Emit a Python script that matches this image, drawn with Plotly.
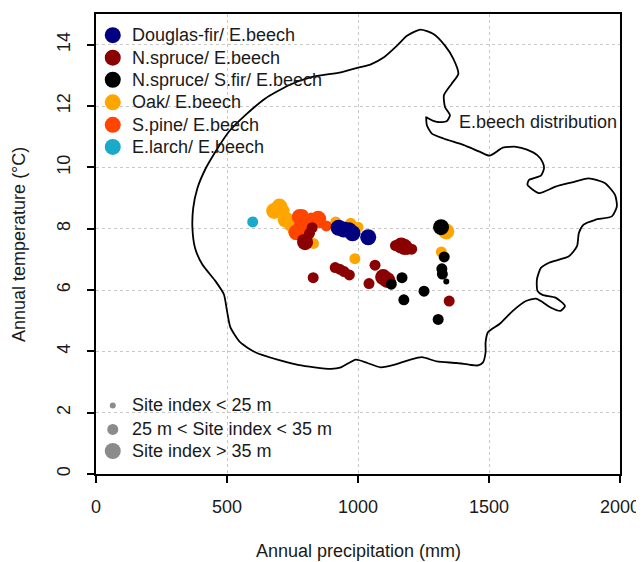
import plotly.graph_objects as go

# ---------------- data ----------------
# E.beech climatic distribution outline (precip mm, temperature degC)
boundary_precip = [1260, 1263, 1282, 1326, 1402, 1464, 1502, 1553, 1603, 1645, 1684, 1704, 1710, 1698,
                   1653, 1647, 1691, 1754, 1817, 1880, 1943, 1981, 1988, 1969, 1906, 1861, 1843, 1836,
                   1805, 1729, 1698, 1683, 1685, 1704, 1754, 1790, 1773, 1735, 1698, 1679, 1641, 1591,
                   1540, 1496, 1487, 1487, 1477, 1458, 1427, 1376, 1301, 1244, 1200, 1149, 1086, 1036,
                   992, 935, 897, 834, 771, 696, 608, 551, 513, 500, 488, 456, 406, 378, 368, 371, 387,
                   419, 456, 507, 570, 645, 734, 822, 935, 1000, 1049, 1099, 1149, 1187, 1238, 1288,
                   1332, 1364, 1383, 1357, 1328, 1332, 1351, 1338, 1301, 1269, 1262]
boundary_temp = [11.66, 11.37, 11.10, 10.94, 10.73, 10.51, 10.38, 10.64, 10.67, 10.58, 10.40, 10.18, 9.97, 9.73,
                 9.59, 9.43, 9.16, 9.37, 9.51, 9.64, 9.48, 9.10, 8.73, 8.40, 8.29, 8.13, 7.86, 7.43,
                 7.10, 6.89, 6.72, 6.35, 5.97, 5.84, 5.75, 5.48, 5.32, 5.43, 5.64, 5.72, 5.64, 5.32,
                 4.89, 4.62, 4.29, 3.97, 3.64, 3.54, 3.56, 3.62, 3.67, 3.81, 3.73, 3.59, 3.48, 3.62,
                 3.73, 3.48, 3.43, 3.48, 3.56, 3.72, 3.97, 4.29, 4.78, 5.32, 5.86, 6.29, 6.83, 7.37, 8.02, 8.67, 9.32,
                 9.97, 10.51, 11.16, 11.70, 12.24, 12.67, 12.94, 13.10, 13.25, 13.36, 13.59, 13.97, 14.29, 14.49, 14.35,
                 13.97, 13.54, 13.05, 12.72, 12.35, 11.97, 11.70, 11.50, 11.48, 11.59, 11.64]

# site index classes: 1 = < 25 m, 2 = 25-35 m, 3 = > 35 m
oak_precip = [680, 700, 718, 724, 739, 752, 830, 915, 972, 1000, 988, 1318, 1337]
oak_temp   = [8.58, 8.72, 8.60, 8.30, 8.10, 7.97, 7.52, 8.22, 8.18, 8.05, 7.02, 7.24, 7.91]
oak_si     = [3, 3, 2, 3, 2, 2, 2, 2, 2, 2, 2, 2, 3]

pine_precip = [778, 790, 787, 765, 784, 822, 848, 855, 879, 808]
pine_temp   = [8.38, 8.45, 8.15, 7.88, 7.93, 8.35, 8.32, 8.20, 8.09, 8.00]
pine_si     = [3, 2, 3, 3, 2, 2, 3, 2, 2, 2]

spruce_precip = [798, 790, 825, 815, 829, 913, 930, 947, 967, 1065, 1042, 1096, 1111, 1125,
                 1143, 1165, 1178, 1190, 1205, 1348]
spruce_temp   = [7.56, 7.64, 8.03, 7.85, 6.40, 6.73, 6.68, 6.60, 6.49, 6.81, 6.21, 6.42, 6.33, 6.25,
                 7.45, 7.45, 7.40, 7.33, 7.33, 5.64]
spruce_si     = [3, 2, 2, 2, 2, 2, 2, 2, 2, 2, 2, 3, 3, 2, 2, 3, 3, 2, 2, 2]

fir_precip = [1317, 1329, 1320, 1322, 1337, 1168, 1127, 1175, 1252, 1306]
fir_temp   = [8.05, 7.08, 6.69, 6.52, 6.28, 6.40, 6.19, 5.68, 5.96, 5.04]
fir_si     = [3, 2, 2, 2, 1, 2, 2, 2, 2, 2]

douglas_precip = [926, 945, 965, 979, 1039]
douglas_temp   = [8.03, 7.97, 7.95, 7.85, 7.72]
douglas_si     = [3, 3, 3, 3, 3]

larch_precip = [598]
larch_temp   = [8.22]
larch_si     = [2]

group_labels = ["Douglas-fir/ E.beech", "N.spruce/ E.beech", "N.spruce/ S.fir/ E.beech",
                "Oak/ E.beech", "S.pine/ E.beech", "E.larch/ E.beech"]
size_labels = ["Site index < 25 m", "25 m < Site index < 35 m", "Site index > 35 m"]
x_ticks = [0, 500, 1000, 1500, 2000]
y_ticks = [0, 2, 4, 6, 8, 10, 12, 14]

# ---------------- styling ----------------
FONT = "Liberation Sans, Arial, sans-serif"
colors = {"Douglas-fir/ E.beech": "#000080", "N.spruce/ E.beech": "#8B0000",
          "N.spruce/ S.fir/ E.beech": "#000000", "Oak/ E.beech": "#FFA500",
          "S.pine/ E.beech": "#FF4500", "E.larch/ E.beech": "#19A9C9"}
size_px = {1: 6, 2: 11, 3: 16}

fig = go.Figure()

fig.add_trace(go.Scatter(x=boundary_precip, y=boundary_temp, mode="lines",
                         line=dict(color="black", width=1.8, shape="spline", smoothing=0.6),
                         showlegend=False, hoverinfo="skip"))

groups = [("Oak/ E.beech", oak_precip, oak_temp, oak_si),
          ("S.pine/ E.beech", pine_precip, pine_temp, pine_si),
          ("N.spruce/ E.beech", spruce_precip, spruce_temp, spruce_si),
          ("N.spruce/ S.fir/ E.beech", fir_precip, fir_temp, fir_si),
          ("Douglas-fir/ E.beech", douglas_precip, douglas_temp, douglas_si),
          ("E.larch/ E.beech", larch_precip, larch_temp, larch_si)]
for name, xs, ys, si in groups:
    fig.add_trace(go.Scatter(x=xs, y=ys, mode="markers", name=name,
                             marker=dict(color=colors[name], size=[size_px[s] for s in si],
                                         line=dict(width=0), opacity=1),
                             showlegend=False))

# ---------------- manual legends (overlay axes in [0,1]) ----------------
leg1_y = [0.954, 0.905, 0.857, 0.808, 0.759, 0.711]
fig.add_trace(go.Scatter(x=[0.032] * 6, y=leg1_y, mode="markers", xaxis="x2", yaxis="y2",
                         marker=dict(color=[colors[g] for g in group_labels], size=16, line=dict(width=0)),
                         showlegend=False, hoverinfo="skip"))
leg2_y = [0.149, 0.097, 0.050]
fig.add_trace(go.Scatter(x=[0.032] * 3, y=leg2_y, mode="markers", xaxis="x2", yaxis="y2",
                         marker=dict(color="#5a5a5a", size=[size_px[1], size_px[2], size_px[3]],
                                     line=dict(width=0)),
                         showlegend=False, hoverinfo="skip"))

annotations = []
for lab, yy in zip(group_labels, leg1_y):
    annotations.append(dict(x=0.064, y=yy, xref="x2", yref="y2", text=lab, showarrow=False,
                            xanchor="left", yanchor="middle", font=dict(size=18, color="#1a1a1a")))
for lab, yy in zip(size_labels, leg2_y):
    annotations.append(dict(x=0.064, y=yy, xref="x2", yref="y2", text=lab, showarrow=False,
                            xanchor="left", yanchor="middle", font=dict(size=18, color="#1a1a1a")))
annotations.append(dict(x=1378, y=11.48, xref="x", yref="y", text="E.beech distribution",
                        showarrow=False, xanchor="left", yanchor="middle",
                        font=dict(size=18, color="#1a1a1a")))
annotations.append(dict(x=0.5, y=-0.168, xref="paper", yref="paper", text="Annual precipitation (mm)",
                        showarrow=False, xanchor="center", yanchor="middle",
                        font=dict(size=18, color="#1a1a1a")))
annotations.append(dict(x=-0.147, y=0.5, xref="paper", yref="paper", text="Annual temperature (°C)",
                        showarrow=False, xanchor="center", yanchor="middle", textangle=-90,
                        font=dict(size=18, color="#1a1a1a")))

axis_common = dict(showline=True, linecolor="black", linewidth=1.5, mirror=True,
                   ticks="outside", ticklen=7, tickwidth=1.5, tickcolor="black",
                   showgrid=True, gridcolor="#c8c8c8", griddash="dot", gridwidth=1,
                   zeroline=False, tickfont=dict(size=18, color="#1a1a1a"),
                   ticklabeloverflow="allow")

# page body has an 8px default margin: shrink the figure so the plot box lands
# at the same pixel position as in the reference
fig.update_layout(
    width=636, height=554,
    margin=dict(l=88, r=18, t=4, b=88),
    paper_bgcolor="white", plot_bgcolor="white",
    font=dict(family=FONT, size=18, color="#1a1a1a"),
    xaxis=dict(range=[0, 2000], tickvals=x_ticks, ticklabelstandoff=9, **axis_common),
    yaxis=dict(range=[0, 15], tickvals=y_ticks, tickangle=-90, ticklabelstandoff=10, **axis_common),
    xaxis2=dict(range=[0, 1], overlaying="x", visible=False, fixedrange=True),
    yaxis2=dict(range=[0, 1], overlaying="y", visible=False, fixedrange=True),
    annotations=annotations,
    showlegend=False,
)

fig.write_html("out.html")
